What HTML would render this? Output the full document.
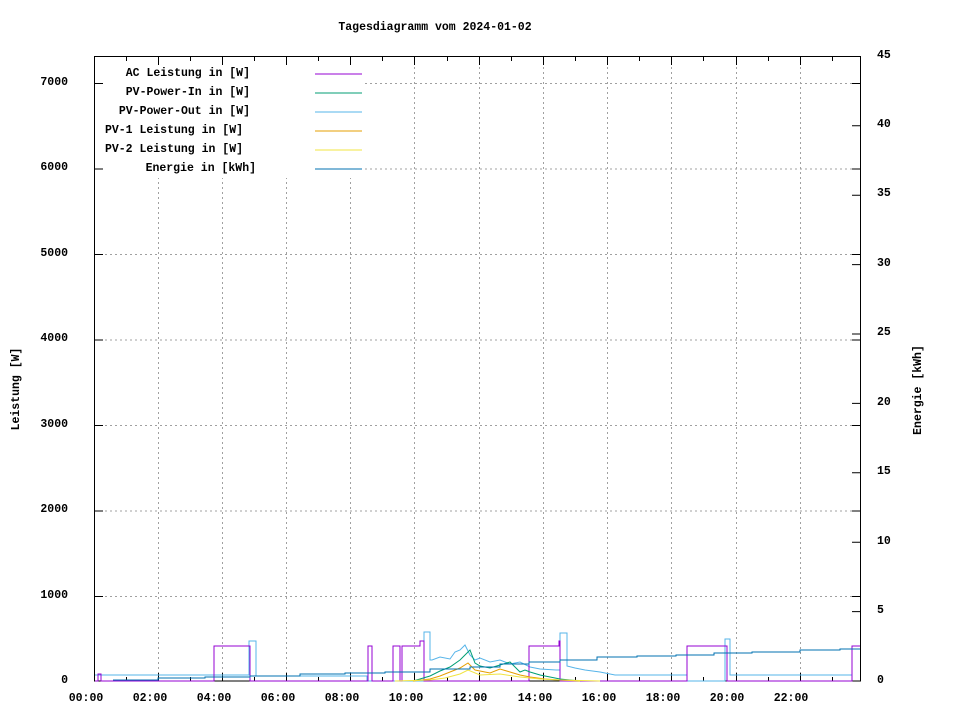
<!DOCTYPE html>
<html><head><meta charset="utf-8"><style>
body{margin:0;background:#fff}
svg text{font-family:"Liberation Mono",monospace;font-size:11.5px;font-weight:bold;fill:#000}
</style></head><body>
<svg width="960" height="720" viewBox="0 0 960 720" xmlns="http://www.w3.org/2000/svg">
<rect width="960" height="720" fill="#fff"/>
<g stroke="#a0a0a0" stroke-dasharray="2,3" stroke-width="1" fill="none">
<path d="M95 596.5H860M95 511H860M95 425.5H860M95 340H860M95 254.5H860M95 169H860M95 83.5H860"/>
<path d="M158.5 57V681M222.5 57V681M286.5 57V681M350.5 57V681M414.5 57V681M479.5 57V681M543.5 57V681M607.5 57V681M671.5 57V681M736.5 57V681M800.5 57V681"/>
</g>
<rect x="97" y="59" width="268" height="119" fill="#fff"/>
<g stroke="#000" stroke-width="1" fill="none">
<rect x="94.5" y="56.5" width="766" height="624.5"/>
<path d="M95 596.5h8M95 511h8M95 425.5h8M95 340h8M95 254.5h8M95 169h8M95 83.5h8"/>
<path d="M860 596.5h-8M860 511h-8M860 425.5h-8M860 340h-8M860 254.5h-8M860 169h-8M860 83.5h-8"/>
<path d="M860 611.6h-8M860 542.2h-8M860 472.8h-8M860 403.4h-8M860 334h-8M860 264.6h-8M860 195.2h-8M860 125.8h-8"/>
<path d="M126.5 681v-4M158.5 681v-8M190.5 681v-4M222.5 681v-8M254.5 681v-4M286.5 681v-8M318.5 681v-4M350.5 681v-8M382.5 681v-4M414.5 681v-8M447.5 681v-4M479.5 681v-8M511.5 681v-4M543.5 681v-8M575.5 681v-4M607.5 681v-8M639.5 681v-4M671.5 681v-8M703.5 681v-4M736.5 681v-8M768.5 681v-4M800.5 681v-8M832.5 681v-4"/>
<path d="M126.5 57v4M158.5 57v8M190.5 57v4M222.5 57v8M254.5 57v4M286.5 57v8M318.5 57v4M350.5 57v8M382.5 57v4M414.5 57v8M447.5 57v4M479.5 57v8M511.5 57v4M543.5 57v8M575.5 57v4M607.5 57v8M639.5 57v4M671.5 57v8M703.5 57v4M736.5 57v8M768.5 57v4M800.5 57v8M832.5 57v4"/>
</g>
<g fill="none" stroke-width="1">
<polyline stroke="#56b4e9" points="95,675 249,675 249,641 256,641 256,676 367,676 367,681 424,681 424,632 430,632 430,660 432,660 440,657 450,659 455,652 460,650 465,645 470,655 475,660 480,658 490,662 500,660 510,664 520,662 530,667 540,669 556,670 560,670 560,633 567,633 567,666 575,668 585,670 600,672 615,675 687,675 687,681 725,681 725,639 730,639 730,675 852,675 852,681"/>
<polyline stroke="#9400d3" points="95,681 98,681 98,674 101,674 101,681 214,681 214,646 250,646 250,681 368,681 368,646 372,646 372,681 393,681 393,646 400,646 400,681 402,681 402,646 420,646 420,641 424,641 424,681 529,681 529,646 559,646 559,641 560,641 560,681 687,681 687,646 727,646 727,681 852,681 852,646 860,646"/>
<polyline stroke="#009e73" points="413,681 420,679 430,676 440,671 450,667 460,660 465,655 470,650 475,663 480,666 490,668 500,665 510,662 515,667 520,672 525,670 530,672 540,675 550,677 560,679 580,681"/>
<polyline stroke="#e69f00" points="413,681 430,679 440,676 450,672 460,668 468,663 475,670 490,673 500,669 510,672 520,675 530,677 545,679 560,680 580,681"/>
<polyline stroke="#f0e442" points="395,681 430,680 445,678 460,674 468,670 480,675 500,674 520,677 540,679 560,680 600,681"/>
<polyline stroke="#0072b2" points="113,680 158,680 158,678 205,678 205,677 250,677 250,676 300,676 300,674 345,674 345,673 385,673 385,672 430,672 430,669 470,669 470,667 500,667 500,664 529,664 529,662 560,662 560,660 597,660 597,657 637,657 637,656 676,656 676,655 714,655 714,653 752,653 752,652 800,652 800,650 840,650 840,649 860,649"/>
</g>
<g stroke-width="1">
<path d="M315 74h47" stroke="#9400d3"/>
<path d="M315 93h47" stroke="#009e73"/>
<path d="M315 112h47" stroke="#56b4e9"/>
<path d="M315 131h47" stroke="#e69f00"/>
<path d="M315 150h47" stroke="#f0e442"/>
<path d="M315 169h47" stroke="#0072b2"/>
</g>
<g text-anchor="end">
<text x="250" y="76">AC Leistung in [W]</text>
<text x="250" y="95">PV-Power-In in [W]</text>
<text x="250" y="114">PV-Power-Out in [W]</text>
<text x="243" y="133">PV-1 Leistung in [W]</text>
<text x="243" y="152">PV-2 Leistung in [W]</text>
<text x="256" y="171">Energie in [kWh]</text>
<text x="68" y="683">0</text>
<text x="68" y="598">1000</text>
<text x="68" y="512">2000</text>
<text x="68" y="427">3000</text>
<text x="68" y="341">4000</text>
<text x="68" y="256">5000</text>
<text x="68" y="170">6000</text>
<text x="68" y="85">7000</text>
</g>
<g text-anchor="start">
<text x="877" y="683">0</text>
<text x="877" y="613">5</text>
<text x="877" y="544">10</text>
<text x="877" y="474">15</text>
<text x="877" y="405">20</text>
<text x="877" y="335">25</text>
<text x="877" y="266">30</text>
<text x="877" y="196">35</text>
<text x="877" y="127">40</text>
<text x="877" y="58">45</text>
</g>
<g text-anchor="middle">
<text x="435" y="30">Tagesdiagramm vom 2024-01-02</text>
<text x="86" y="701">00:00</text>
<text x="150" y="701">02:00</text>
<text x="214" y="701">04:00</text>
<text x="278" y="701">06:00</text>
<text x="342" y="701">08:00</text>
<text x="406" y="701">10:00</text>
<text x="470" y="701">12:00</text>
<text x="535" y="701">14:00</text>
<text x="599" y="701">16:00</text>
<text x="663" y="701">18:00</text>
<text x="727" y="701">20:00</text>
<text x="791" y="701">22:00</text>
<text transform="translate(19,389) rotate(-90)">Leistung [W]</text>
<text transform="translate(921,390) rotate(-90)">Energie [kWh]</text>
</g>
</svg>
</body></html>
